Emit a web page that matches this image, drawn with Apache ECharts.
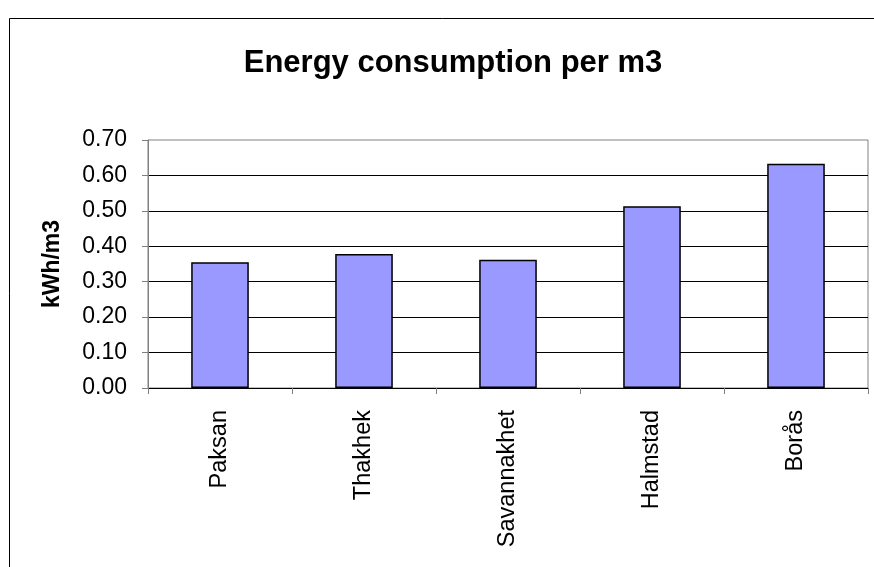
<!DOCTYPE html>
<html>
<head>
<meta charset="utf-8">
<script src="https://cdn.jsdelivr.net/npm/echarts@6/dist/echarts.min.js"></script>
<style>
html,body{margin:0;padding:0;background:#fff;}
#c{width:874px;height:567px;}
</style>
</head>
<body>
<div id="c"></div>
<script>
const categories = ['Paksan', 'Thakhek', 'Savannakhet', 'Halmstad', 'Borås'];
const values = [0.355, 0.378, 0.362, 0.513, 0.633];
const yTicks = { min: 0, max: 0.7, interval: 0.1 };
const titleText = 'Energy consumption per m3';
const yName = 'kWh/m3';

const FONT = '"Liberation Sans", Arial, sans-serif';
const chart = echarts.init(document.getElementById('c'), null, { renderer: 'canvas' });
chart.setOption({
  animation: false,
  backgroundColor: '#fff',
  title: {
    text: titleText,
    left: 448,
    top: 43,
    textAlign: 'center',
    textStyle: { fontFamily: FONT, fontSize: 31, fontWeight: 'bold', color: '#000' }
  },
  graphic: [{
    type: 'rect',
    shape: { x: 9.5, y: 18.5, width: 900, height: 600 },
    style: { fill: 'none', stroke: '#000', lineWidth: 1 },
    silent: true,
    z: -10
  }],
  grid: {
    left: 148, right: 6, top: 140, bottom: 179,
    show: true, borderColor: '#808080', borderWidth: 1, backgroundColor: 'transparent'
  },
  xAxis: {
    type: 'category',
    data: categories,
    axisLine: { show: true, lineStyle: { color: '#000', width: 1 } },
    axisTick: { show: true, length: 6, lineStyle: { color: '#808080' } },
    axisLabel: { rotate: 90, margin: 22, fontFamily: FONT, fontSize: 23.5, color: '#000' },
    splitLine: { show: false }
  },
  yAxis: {
    type: 'value',
    min: yTicks.min, max: yTicks.max, interval: yTicks.interval,
    name: yName,
    nameLocation: 'middle',
    nameGap: 84,
    nameTextStyle: { fontFamily: FONT, fontSize: 23, fontWeight: 'bold', color: '#000' },
    axisLine: { show: true, lineStyle: { color: '#808080' } },
    axisTick: { show: true, length: 6, lineStyle: { color: '#808080' } },
    axisLabel: { margin: 21, fontFamily: FONT, fontSize: 23, color: '#000', formatter: v => v.toFixed(2) },
    splitLine: { show: true, showMaxLine: false, lineStyle: { color: '#000', width: 1 } }
  },
  series: [{
    type: 'bar',
    data: values,
    barWidth: '40%',
    itemStyle: { color: '#9999FF', borderColor: '#000', borderWidth: 1.5 }
  }]
});
</script>
</body>
</html>
